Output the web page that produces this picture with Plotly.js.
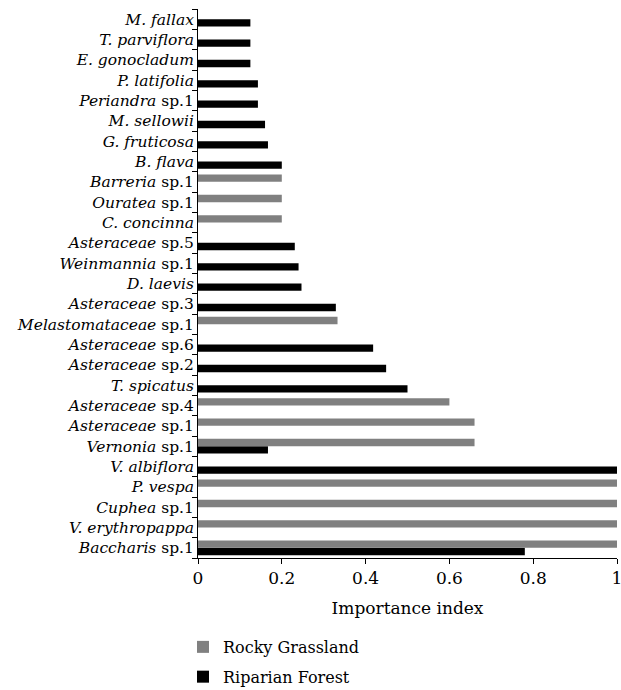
<!DOCTYPE html>
<html>
<head>
<meta charset="utf-8">
<script src="https://cdn.plot.ly/plotly-3.0.1.min.js"></script>
<style>html,body{margin:0;padding:0;background:#fff;}#chart{width:621px;height:690px;}</style>
</head>
<body>
<div id="chart"></div>
<script>
// categories from bottom to top
const species = ["Baccharis sp.1","V. erythropappa","Cuphea sp.1","P. vespa","V. albiflora","Vernonia sp.1","Asteraceae sp.1","Asteraceae sp.4","T. spicatus","Asteraceae sp.2","Asteraceae sp.6","Melastomataceae sp.1","Asteraceae sp.3","D. laevis","Weinmannia sp.1","Asteraceae sp.5","C. concinna","Ouratea sp.1","Barreria sp.1","B. flava","G. fruticosa","M. sellowii","Periandra sp.1","P. latifolia","E. gonocladum","T. parviflora","M. fallax"];
const speciesLabels = ["<i>Baccharis</i> sp.1","<i>V. erythropappa</i>","<i>Cuphea</i> sp.1","<i>P. vespa</i>","<i>V. albiflora</i>","<i>Vernonia</i> sp.1","<i>Asteraceae</i> sp.1","<i>Asteraceae</i> sp.4","<i>T. spicatus</i>","<i>Asteraceae</i> sp.2","<i>Asteraceae</i> sp.6","<i>Melastomataceae</i> sp.1","<i>Asteraceae</i> sp.3","<i>D. laevis</i>","<i>Weinmannia</i> sp.1","<i>Asteraceae</i> sp.5","<i>C. concinna</i>","<i>Ouratea</i> sp.1","<i>Barreria</i> sp.1","<i>B. flava</i>","<i>G. fruticosa</i>","<i>M. sellowii</i>","<i>Periandra</i> sp.1","<i>P. latifolia</i>","<i>E. gonocladum</i>","<i>T. parviflora</i>","<i>M. fallax</i>"];
const rockyGrassland = [1.0,1.0,1.0,1.0,null,0.66,0.66,0.6,null,null,null,0.333,null,null,null,null,0.2,0.2,0.2,null,null,null,null,null,null,null,null];
const riparianForest = [0.78,null,null,null,1.0,0.167,null,null,0.5,0.449,0.418,null,0.329,0.247,0.24,0.231,null,null,null,0.2,0.167,0.16,0.143,0.143,0.125,0.125,0.125];
const xTicks = [0,0.2,0.4,0.6,0.8,1];
const xTickLabels = ["0","0.2","0.4","0.6","0.8","1"];

const font = "DejaVu Serif";
const data = [
  {type:'bar', orientation:'h', name:'Riparian Forest', legendgroup:'b', legendrank:2, y:species, x:riparianForest, marker:{color:'#000000'}},
  {type:'bar', orientation:'h', name:'Rocky Grassland', legendgroup:'a', legendrank:1, y:species, x:rockyGrassland, marker:{color:'#808080'}}
];
const layout = {
  width:621, height:690,
  margin:{l:198, r:4, t:9, b:132, autoexpand:false},
  paper_bgcolor:'#fff', plot_bgcolor:'#fff',
  font:{family:font, size:16, color:'#000'},
  barmode:'group', bargap:0.28, bargroupgap:0,
  showlegend:true,
  legend:{traceorder:'grouped', tracegroupgap:6, xref:'container', yref:'container', x:0.2947, xanchor:'left', y:0.087, yanchor:'top', font:{size:16, family:font}, bgcolor:'rgba(0,0,0,0)'},
  xaxis:{range:[0,1], tickvals:xTicks, ticktext:xTickLabels, ticklabeloverflow:'allow', showgrid:false, zeroline:false, showline:true, linecolor:'#000', linewidth:1, ticks:'outside', ticklen:5, tickcolor:'#000', tickfont:{size:17, family:font}, title:{text:'Importance index', font:{size:17, family:font}, standoff:14}},
  yaxis:{type:'category', categoryorder:'array', categoryarray:species, tickvals:species, ticktext:speciesLabels, tickson:'boundaries', showgrid:false, zeroline:false, showline:true, linecolor:'#000', linewidth:1, ticks:'outside', ticklen:5, tickcolor:'#000', tickfont:{size:15.5, family:font}, range:[-0.5,26.5]}
};
Plotly.newPlot('chart', data, layout, {displayModeBar:false, staticPlot:true});
</script>
</body>
</html>
